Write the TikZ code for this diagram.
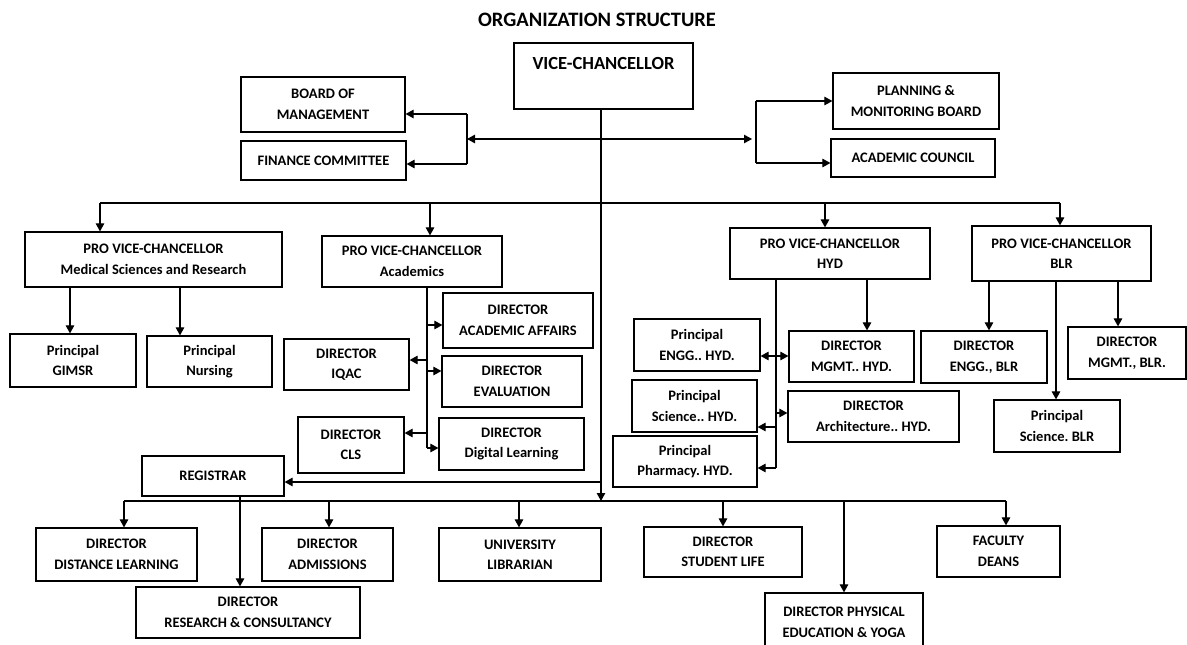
\documentclass[tikz,border=0pt]{standalone}
\usepackage{fontspec}
\setmainfont{Carlito}
\usetikzlibrary{arrows.meta}
\frenchspacing

\begin{document}
\begin{tikzpicture}[x=1pt,y=-1pt,line width=1.1pt,
  box/.style={draw,line width=1.2pt,inner sep=0pt,align=center,
    font=\fontsize{14.5}{20.5}\selectfont\bfseries},
  arr/.style={-{Triangle[length=8pt,width=8.5pt]}},
  arrs/.style={{Triangle[length=8pt,width=8.5pt]}-{Triangle[length=8pt,width=8.5pt]}}]
\useasboundingbox (0,0) rectangle (1187,645);

\node[font=\fontsize{20.5}{24}\selectfont\bfseries] (title) at (597,20) {ORGANIZATION STRUCTURE};

\node[box,font=\fontsize{18.5}{22}\selectfont\bfseries,minimum width=179,minimum height=66,
  text height=20,text depth=34,inner ysep=6] (vc) at (603.5,76) {VICE-CHANCELLOR};

% side boards
\node[box,minimum width=164,minimum height=55] (bom) at (323,104.5) {BOARD OF\\MANAGEMENT};
\node[box,minimum width=165,minimum height=39] (fin) at (323.5,160.5) {FINANCE COMMITTEE};
\node[box,minimum width=166,minimum height=56] (plan) at (916,101) {PLANNING \&\\MONITORING BOARD};
\node[box,minimum width=164,minimum height=38] (acad) at (913,158) {ACADEMIC COUNCIL};

% pro vice-chancellors
\node[box,minimum width=257,minimum height=55] (pvcmed) at (153.5,259.5) {PRO VICE-CHANCELLOR\\Medical Sciences and Research};
\node[box,minimum width=180,minimum height=51] (pvcacad) at (412,261.5) {PRO VICE-CHANCELLOR\\Academics};
\node[box,minimum width=200,minimum height=51] (pvchyd) at (830,253.5) {PRO VICE-CHANCELLOR\\HYD};
\node[box,minimum width=179,minimum height=55] (pvcblr) at (1061.5,253.5) {PRO VICE-CHANCELLOR\\BLR};

\node[box,minimum width=126,minimum height=53] (gimsr) at (73,360.5) {Principal\\GIMSR};
\node[box,minimum width=125,minimum height=51] (nursing) at (209.5,361.5) {Principal\\Nursing};

\node[box,minimum width=150,minimum height=55] (diraa) at (518,320.5) {DIRECTOR\\ACADEMIC AFFAIRS};
\node[box,minimum width=125,minimum height=51] (iqac) at (346.5,364.5) {DIRECTOR\\IQAC};
\node[box,minimum width=140,minimum height=51] (eval) at (512,381.5) {DIRECTOR\\EVALUATION};
\node[box,minimum width=106,minimum height=56] (cls) at (351,445) {DIRECTOR\\CLS};
\node[box,minimum width=145,minimum height=52] (dl) at (511.5,444) {DIRECTOR\\Digital Learning};
\node[box,minimum width=142,minimum height=40] (reg) at (213,476) {REGISTRAR};

% hyd side
\node[box,minimum width=126,minimum height=52] (penghyd) at (697,345) {Principal\\ENGG.. HYD.};
\node[box,minimum width=125,minimum height=51] (dmgmthyd) at (851.5,356.5) {DIRECTOR\\MGMT.. HYD.};
\node[box,minimum width=125,minimum height=52] (pscihyd) at (694.5,406) {Principal\\Science.. HYD.};
\node[box,minimum width=171,minimum height=51] (darchhyd) at (873.5,416.5) {DIRECTOR\\Architecture.. HYD.};
\node[box,minimum width=144,minimum height=51] (pphhyd) at (685,461.5) {Principal\\Pharmacy. HYD.};

% blr side
\node[box,minimum width=126,minimum height=52] (dengblr) at (984,357) {DIRECTOR\\ENGG., BLR};
\node[box,minimum width=126,minimum height=52] (pscblr) at (1057,426) {Principal\\Science. BLR};
\node[box,minimum width=118,minimum height=52] (dmgmtblr) at (1127,353) {DIRECTOR\\MGMT., BLR.};

% bottom row
\node[box,minimum width=161,minimum height=53] (ddl) at (116.5,554.5) {DIRECTOR\\DISTANCE LEARNING};
\node[box,minimum width=131,minimum height=53] (dadm) at (327.5,554.5) {DIRECTOR\\ADMISSIONS};
\node[box,minimum width=162,minimum height=53] (lib) at (520,554.5) {UNIVERSITY\\LIBRARIAN};
\node[box,minimum width=158,minimum height=50] (dsl) at (723,552) {DIRECTOR\\STUDENT LIFE};
\node[box,minimum width=123,minimum height=51] (fac) at (998.5,551.5) {FACULTY\\DEANS};
\node[box,minimum width=224,minimum height=51] (drc) at (248,612.5) {DIRECTOR\\RESEARCH \& CONSULTANCY};
\node[box,minimum width=158,minimum height=59] (dpe) at (844,622.5) {DIRECTOR PHYSICAL\\EDUCATION \& YOGA};

% brackets near the top
\coordinate (lb1) at (467,114);
\coordinate (lb2) at (467,164);
\coordinate (lbm) at (467,139);
\coordinate (rbm) at (752,139);
\coordinate (rb1) at (756,101);
\coordinate (rb2) at (756,163);
\draw (lb1) -- (lb2);
\draw[arr] (lb1) -- (bom.east |- lb1);
\draw[arr] (lb2) -- (fin.east |- lb2);
\draw[arrs] (lbm) -- (rbm);
\draw (rb1) -- (rb2);
\draw[arr] (rb1) -- (plan.west |- rb1);
\draw[arr] (rb2) -- (acad.west |- rb2);

% main trunk
\coordinate (mbot) at (601,501);
\draw[arr] (vc.south -| mbot) -- (mbot);

% upper bus
\coordinate (t1) at (100,203);
\coordinate (t2) at (430,203);
\coordinate (t3) at (825,203);
\coordinate (t4) at (1060,203);
\draw (t1) -- (t4);
\draw[arr] (t1) -- (t1 |- pvcmed.north);
\draw[arr] (t2) -- (t2 |- pvcacad.north);
\draw[arr] (t3) -- (t3 |- pvchyd.north);
\draw[arr] (t4) -- (t4 |- pvcblr.north);

\coordinate (m1) at (70,287);
\coordinate (m2) at (180,287);
\draw[arr] (m1) -- (m1 |- gimsr.north);
\draw[arr] (m2) -- (m2 |- nursing.north);

% academics spine
\coordinate (a0) at (427,287);
\coordinate (a1) at (427,325);
\coordinate (a2) at (427,360);
\coordinate (a3) at (427,371);
\coordinate (a4) at (427,433);
\coordinate (a5) at (427,448);
\draw (a0) -- (a5);
\draw[arr] (a1) -- (diraa.west |- a1);
\draw[arr] (a2) -- (iqac.east |- a2);
\draw[arr] (a3) -- (eval.west |- a3);
\draw[arr] (a4) -- (cls.east |- a4);
\draw[arr] (a5) -- (dl.west |- a5);

% hyd spine
\coordinate (h0) at (776,279);
\coordinate (h1) at (776,356);
\coordinate (h2) at (776,413);
\coordinate (h3) at (776,427);
\coordinate (h4) at (776,468);
\coordinate (h5) at (867,279);
\draw (h0) -- (h4);
\draw[arrs] (penghyd.east |- h1) -- (dmgmthyd.west |- h1);
\draw[arr] (h2) -- (darchhyd.west |- h2);
\draw[arr] (h3) -- (pscihyd.east |- h3);
\draw[arr] (h4) -- (pphhyd.east |- h4);
\draw[arr] (h5) -- (h5 |- dmgmthyd.north);

\coordinate (k1) at (989,281);
\coordinate (k2) at (1056,281);
\coordinate (k3) at (1118,281);
\draw[arr] (k1) -- (k1 |- dengblr.north);
\draw[arr] (k2) -- (k2 |- pscblr.north);
\draw[arr] (k3) -- (k3 |- dmgmtblr.north);

% registrar
\coordinate (rtap) at (601,482);
\coordinate (rdrop) at (240,496);
\draw[arr] (rtap) -- (reg.east |- rtap);
\draw[arr] (rdrop) -- (rdrop |- drc.north);

% lower bus
\coordinate (b1) at (124,501);
\coordinate (b2) at (329,501);
\coordinate (b3) at (519,501);
\coordinate (b4) at (723,501);
\coordinate (b5) at (844,501);
\coordinate (b6) at (1006,501);
\draw (b1) -- (b6);
\draw[arr] (b1) -- (b1 |- ddl.north);
\draw[arr] (b2) -- (b2 |- dadm.north);
\draw[arr] (b3) -- (b3 |- lib.north);
\draw[arr] (b4) -- (b4 |- dsl.north);
\draw[arr] (b5) -- (b5 |- dpe.north);
\draw[arr] (b6) -- (b6 |- fac.north);

\end{tikzpicture}
\end{document}
